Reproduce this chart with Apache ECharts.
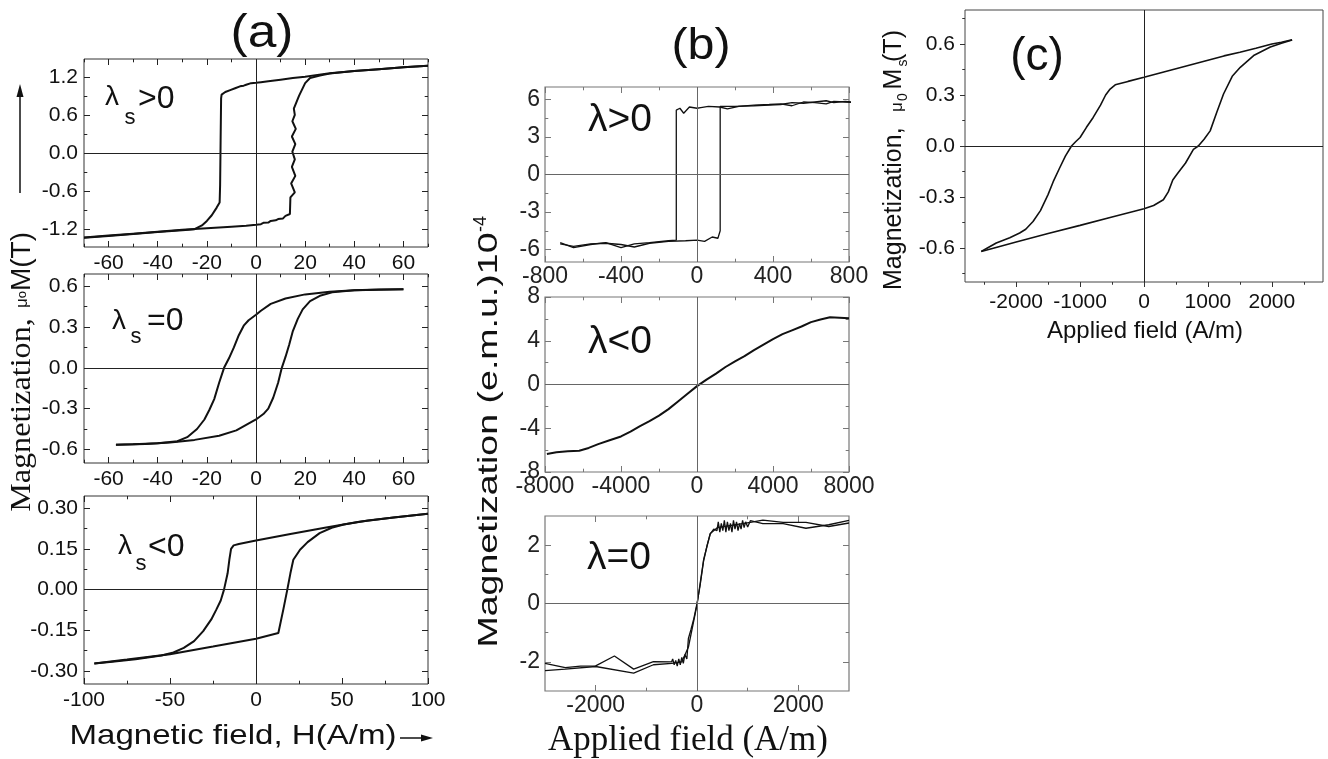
<!DOCTYPE html>
<html><head><meta charset="utf-8">
<script src="https://cdn.jsdelivr.net/npm/echarts@6/dist/echarts.min.js"></script>
<style>html,body{margin:0;padding:0;background:#fff}#chart{width:1328px;height:759px}</style>
</head><body><div id="chart"></div>
<script>
// ---------- DATA ----------
// Panel (a) top: lambda_s > 0  (H in A/m, M in T)
const aPosDown = [[70,1.375],[60,1.35],[50,1.32],[40,1.29],[30,1.255],[25,1.23],[20,1.2],[15,1.18],[10,1.155],[5,1.13],[2,1.115],[0,1.105],[-2,1.1],[-2.5,1.08],[-4,1.075],[-5,1.06],[-6.5,1.05],[-7,1.03],[-8.5,1.02],[-9,1.0],[-10.5,0.99],[-11,0.97],[-12.5,0.96],[-13,0.93],[-14,0.92],[-14.2,0.86],[-14.4,0.2],[-14.6,-0.5],[-14.8,-0.78],[-16,-0.86],[-18,-0.98],[-20,-1.07],[-22,-1.14],[-25,-1.2],[-30,-1.215],[-40,-1.245],[-50,-1.275],[-60,-1.305],[-70,-1.335]];
const aPosUp = [[-70,-1.33],[-60,-1.3],[-50,-1.27],[-40,-1.24],[-30,-1.21],[-20,-1.185],[-10,-1.16],[-4,-1.145],[0,-1.13],[2,-1.12],[3,-1.1],[5,-1.095],[6,-1.07],[8,-1.06],[9,-1.04],[11,-1.03],[12,-0.99],[13.8,-0.96],[14,-0.7],[15.8,-0.62],[14.3,-0.48],[16,-0.36],[14.6,-0.22],[15.8,-0.1],[14.8,0.02],[16,0.14],[14.6,0.26],[16.2,0.38],[14.8,0.5],[15.8,0.6],[15.4,0.7],[17.5,0.9],[20,1.1],[22,1.18],[26,1.22],[30,1.25],[40,1.29],[50,1.32],[60,1.35],[70,1.375]];
// Panel (a) middle: lambda_s = 0
const aZeroDown = [[60,0.578],[50,0.576],[40,0.57],[30,0.56],[20,0.54],[12,0.51],[6,0.47],[2,0.42],[0,0.39],[-3,0.35],[-5,0.31],[-7,0.24],[-9,0.15],[-11,0.07],[-13,0.0],[-15,-0.11],[-17,-0.23],[-19,-0.31],[-21,-0.38],[-24,-0.45],[-28,-0.51],[-32,-0.54],[-40,-0.555],[-50,-0.562],[-57,-0.565]];
const aZeroUp = [[-57,-0.565],[-45,-0.56],[-35,-0.55],[-25,-0.53],[-15,-0.5],[-8,-0.46],[-4,-0.42],[0,-0.38],[3,-0.34],[5,-0.3],[7,-0.22],[9,-0.11],[10.5,0.0],[12,0.08],[13.5,0.17],[15,0.27],[17,0.36],[19,0.43],[22,0.49],[26,0.53],[31,0.555],[40,0.57],[50,0.575],[60,0.578]];
// Panel (a) bottom: lambda_s < 0
const aNegDown = [[100,0.28],[80,0.266],[60,0.25],[40,0.228],[20,0.205],[0,0.181],[-10,0.168],[-13,0.163],[-14.5,0.15],[-15.5,0.11],[-16.5,0.06],[-18.6,0.0],[-20.5,-0.04],[-23,-0.073],[-26,-0.11],[-30.7,-0.153],[-36,-0.19],[-42,-0.215],[-48,-0.232],[-55,-0.243],[-70,-0.257],[-85,-0.267],[-94,-0.272]];
const aNegUp = [[-94,-0.272],[-75,-0.258],[-50,-0.238],[-25,-0.21],[0,-0.181],[13,-0.16],[14,-0.153],[15.9,-0.073],[18.2,0.0],[20,0.06],[21.7,0.11],[25.6,0.147],[30,0.175],[37,0.208],[44,0.228],[51,0.24],[65,0.255],[80,0.266],[100,0.28]];
// Panel (b) top: lambda > 0  (H in A/m, M in 1e-4 emu)
const bPosDown = [[840,5.75],[780,5.8],[720,5.85],[680,5.65],[620,5.75],[560,5.8],[500,5.5],[440,5.65],[380,5.6],[300,5.55],[220,5.45],[160,5.25],[120,5.4],[60,5.45],[20,5.35],[0,5.3],[-40,5.4],[-70,4.9],[-90,5.3],[-109,5.15],[-109,-5.25],[-150,-5.3],[-250,-5.45],[-330,-5.55],[-400,-5.85],[-480,-5.45],[-560,-5.6],[-650,-5.85],[-720,-5.45]];
const bPosUp = [[-720,-5.55],[-650,-5.75],[-560,-5.55],[-480,-5.5],[-400,-5.6],[-330,-5.8],[-250,-5.5],[-150,-5.35],[-60,-5.3],[0,-5.25],[40,-5.35],[80,-5.0],[110,-5.1],[122,-4.5],[122,5.45],[200,5.45],[300,5.5],[380,5.55],[440,5.6],[500,5.75],[560,5.7],[620,5.8],[680,5.9],[720,5.75],[780,5.85],[840,5.75]];
// Panel (b) middle: lambda < 0
const bNeg = [[-7900,-6.35],[-7400,-6.2],[-6800,-6.1],[-6200,-6.05],[-5700,-5.8],[-5200,-5.45],[-4600,-5.1],[-4000,-4.75],[-3500,-4.3],[-3000,-3.8],[-2500,-3.35],[-2000,-2.85],[-1500,-2.25],[-1000,-1.55],[-500,-0.85],[0,-0.15],[500,0.45],[1000,1.0],[1500,1.6],[2000,2.12],[2500,2.6],[3000,3.15],[3500,3.65],[4000,4.15],[4500,4.6],[5000,4.95],[5500,5.3],[6000,5.7],[6500,5.95],[7000,6.15],[7500,6.1],[8000,6.05]];
// Panel (b) bottom: lambda = 0
const bZeroA = [[-3000,-2.05],[-2600,-2.2],[-2300,-2.15],[-2000,-2.14],[-1630,-1.8],[-1250,-2.25],[-860,-1.99],[-500,-2.0],[-480,-1.9],[-450,-2.1],[-420,-1.95],[-390,-2.15],[-360,-1.9],[-330,-2.1],[-300,-1.85],[-270,-2.05],[-240,-1.75],[-200,-1.9],[-170,-1.2],[-120,-0.9],[-60,-0.5],[0,0.0],[60,0.6],[130,1.45],[200,2.0],[262,2.39],[330,2.55],[394,2.5],[420,2.8],[450,2.45],[480,2.75],[510,2.5],[540,2.85],[570,2.45],[600,2.8],[630,2.5],[660,2.75],[690,2.45],[720,2.85],[750,2.55],[780,2.8],[810,2.5],[840,2.75],[870,2.55],[900,2.85],[930,2.6],[960,2.8],[1000,2.62],[1053,2.84],[1300,2.74],[1700,2.74],[2150,2.58],[2600,2.7],[3000,2.85]];
const bZeroB = [[-3000,-2.3],[-2600,-2.25],[-2000,-2.16],[-1250,-2.39],[-860,-2.1],[-500,-2.05],[-300,-2.0],[-170,-1.5],[0,-0.05],[130,1.5],[262,2.4],[400,2.6],[1053,2.78],[1300,2.86],[1700,2.78],[2150,2.78],[2600,2.64],[3000,2.76]];
// Panel (c)
const cDown = [[2317,0.625],[2150,0.61],[2000,0.6],[1750,0.575],[1500,0.552],[1250,0.53],[1000,0.505],[750,0.48],[500,0.455],[250,0.43],[0,0.404],[-250,0.38],[-450,0.36],[-530,0.335],[-600,0.3],[-680,0.24],[-795,0.168],[-900,0.11],[-1000,0.05],[-1070,0.025],[-1134,0.0],[-1230,-0.06],[-1318,-0.128],[-1420,-0.21],[-1501,-0.286],[-1620,-0.38],[-1736,-0.444],[-1850,-0.49],[-1945,-0.512],[-2100,-0.54],[-2311,-0.571],[-2450,-0.6],[-2546,-0.62]];
const cUp = [[-2546,-0.62],[-2300,-0.595],[-2000,-0.565],[-1500,-0.515],[-1000,-0.467],[-500,-0.418],[0,-0.369],[150,-0.35],[303,-0.316],[380,-0.27],[450,-0.2],[513,-0.168],[650,-0.1],[773,-0.02],[850,0.0],[940,0.04],[1035,0.089],[1140,0.2],[1244,0.306],[1380,0.41],[1506,0.463],[1715,0.532],[1976,0.582],[2150,0.605],[2317,0.623]];

// Tick labels (major) and minor tick positions
const a1XTicks = [-60,-40,-20,0,20,40,60], a1XMinor = [-70,-50,-30,-10,10,30,50,70];
const a1YTicks = [-1.2,-0.6,0,0.6,1.2], a1YMinor = [-0.9,-0.3,0.3,0.9];
const a2YTicks = [-0.6,-0.3,0,0.3,0.6], a2YMinor = [-0.45,-0.15,0.15,0.45];
const a3XTicks = [-100,-50,0,50,100], a3XMinor = [-75,-25,25,75];
const a3YTicks = [-0.3,-0.15,0,0.15,0.3], a3YMinor = [-0.225,-0.075,0.075,0.225];
const b1XTicks = [-800,-400,0,400,800], b1XMinor = [-600,-200,200,600];
const b1YTicks = [-6,-3,0,3,6], b1YMinor = [-4.5,-1.5,1.5,4.5];
const b2XTicks = [-8000,-4000,0,4000,8000], b2XMinor = [-6000,-2000,2000,6000];
const b2YTicks = [-8,-4,0,4,8], b2YMinor = [-6,-2,2,6];
const b3XTicks = [-2000,0,2000], b3XMinor = [-1000,1000];
const b3YTicks = [-2,0,2], b3YMinor = [-1,1];
const cXTicks = [-2000,-1000,0,1000,2000], cXMinor = [-2500,-1500,-500,500,1500,2500];
const cYTicks = [-0.6,-0.3,0,0.3,0.6], cYMinor = [-0.75,-0.45,-0.15,0.15,0.45,0.75];

// ---------- LAYOUT / STYLE ----------
const SANS = 'Liberation Sans, Arial, sans-serif';
const SERIF = 'Liberation Serif, Times New Roman, serif';
const grids = [
  {left:84, top:59, width:344, height:188},
  {left:84, top:274, width:344, height:189},
  {left:84, top:496, width:344, height:188},
  {left:545, top:87, width:304, height:175},
  {left:545, top:297, width:304, height:175},
  {left:545, top:516, width:304, height:175},
  {left:965, top:10, width:358, height:272}
];
const styleA = {inside:true, mirror:true, len:6, color:'#222', labelColor:'#111', fontSize:21, mx:6, my:6, border:'#333', bw:1};
const styleB = {inside:true, mirror:true, len:6, color:'#777', labelColor:'#222', fontSize:23, mx:3, my:5, border:'#777', bw:1.2};
const styleC = {inside:false, mirror:false, len:5, color:'#333', labelColor:'#111', fontSize:21, mx:10, my:10, border:'#444', bw:1};

const panelDefs = [
  {x:[-70,70], y:[-1.48,1.48], xT:a1XTicks, xM:a1XMinor, yT:a1YTicks, yM:a1YMinor, xd:0, yd:1, st:styleA},
  {x:[-70,70], y:[-0.7,0.69], xT:a1XTicks, xM:a1XMinor, yT:a2YTicks, yM:a2YMinor, xd:0, yd:1, st:styleA},
  {x:[-100,100], y:[-0.348,0.345], xT:a3XTicks, xM:a3XMinor, yT:a3YTicks, yM:a3YMinor, xd:0, yd:2, st:styleA},
  {x:[-800,800], y:[-7,7], xT:b1XTicks, xM:b1XMinor, yT:b1YTicks, yM:b1YMinor, xd:0, yd:0, st:styleB},
  {x:[-8000,8000], y:[-8,8], xT:b2XTicks, xM:b2XMinor, yT:b2YTicks, yM:b2YMinor, xd:0, yd:0, st:styleB},
  {x:[-3000,3000], y:[-3,3], xT:b3XTicks, xM:b3XMinor, yT:b3YTicks, yM:b3YMinor, xd:0, yd:0, st:styleB},
  {x:[-2800,2800], y:[-0.8,0.8], xT:cXTicks, xM:cXMinor, yT:cYTicks, yM:cYMinor, xd:0, yd:1, st:styleC}
];

const xAxes = [], yAxes = [], mainIdx = [];
panelDefs.forEach((p, g) => {
  const s = p.st;
  function mk(dim, pos, vals, len, label, dec, margin) {
    const ext = dim === 'x' ? p.x : p.y;
    const ax = {
      type:'value', gridIndex:g, position:pos, min:ext[0], max:ext[1],
      axisLine:{show:false, onZero:false}, splitLine:{show:false},
      axisTick:{show:true, inside:s.inside, length:len, customValues:vals, lineStyle:{color:s.color, width:1}},
      axisLabel: label ? {show:true, customValues:vals, margin:margin, fontSize:s.fontSize, fontFamily:SANS, color:s.labelColor,
        formatter: v => Number(v).toFixed(dec)} : {show:false}
    };
    const arr = dim === 'x' ? xAxes : yAxes;
    arr.push(ax); return arr.length - 1;
  }
  const xi = mk('x','bottom',p.xT,s.len,true,p.xd,s.mx);
  mk('x','bottom',p.xM,s.len*0.55,false);
  const yi = mk('y','left',p.yT,s.len,true,p.yd,s.my);
  mk('y','left',p.yM,s.len*0.55,false);
  if (s.mirror) {
    mk('x','top',p.xT,s.len,false); mk('x','top',p.xM,s.len*0.55,false);
    mk('y','right',p.yT,s.len,false); mk('y','right',p.yM,s.len*0.55,false);
  }
  mainIdx.push({xi, yi, s});
});

const seriesDefs = [
  [0,aPosDown,2],[0,aPosUp,2],[1,aZeroDown,2],[1,aZeroUp,2],[2,aNegDown,2],[2,aNegUp,2],
  [3,bPosDown,1.3],[3,bPosUp,1.3],[4,bNeg,2],[5,bZeroA,1.3],[5,bZeroB,1.3],
  [6,cDown,1.6],[6,cUp,1.6]
];
const zeroDone = {};
const series = seriesDefs.map(([g, d, w]) => {
  const m = mainIdx[g];
  const ser = {type:'line', xAxisIndex:m.xi, yAxisIndex:m.yi, data:d, showSymbol:false, symbol:'none',
    lineStyle:{color:'#111', width:w}, animation:false, silent:true, z:3};
  if (!zeroDone[g]) {
    zeroDone[g] = true;
    ser.markLine = {silent:true, symbol:'none', animation:false, label:{show:false},
      lineStyle:{color: g>=3 && g<=5 ? '#666' : '#222', width:1, type:'solid'},
      data:[{xAxis:0},{yAxis:0}]};
  }
  return ser;
});

// ---------- TEXT ----------
const graphics = [];
const R = Math.PI/2;
function addT(x,y,text,size,style,opts){
  const el = {type:'text', x:x, y:y, silent:true, z:10,
    style:Object.assign({text:text, fontSize:size, fontFamily:SANS, fill:'#111', align:'center', verticalAlign:'middle'}, style||{})};
  Object.assign(el, opts||{});
  graphics.push(el);
}
// panel letters
addT(262,34,'(a)',46,{}, {scaleX:1.12});
addT(701,47,'(b)',44,{}, {scaleX:1.1});
addT(1037,57,'(c)',46,{});
// lambda labels (a)
addT(112,97,'λ',28,{});
addT(130,118,'s',22,{});
addT(138,99,'>0',32,{align:'left'});
addT(119,321,'λ',28,{});
addT(136,337,'s',22,{});
addT(147,321,'=0',32,{align:'left'});
addT(125,546,'λ',28,{});
addT(141,564,'s',22,{});
addT(148,547,'<0',32,{align:'left'});
// lambda labels (b)
addT(588,120,'λ>0',39,{align:'left'});
addT(588,342,'λ<0',39,{align:'left'});
addT(587,558,'λ=0',39,{align:'left'});
// (a) axis titles
addT(22,415,'Magnetization,',30,{fontFamily:SERIF},{rotation:R, scaleX:1.07});
addT(22,270,'{m|μ}{o|o}{t|M(T)}',28,{rich:{m:{fontSize:17,fontFamily:SANS,fill:'#111'},o:{fontSize:13,fontFamily:SANS,fill:'#111',lineHeight:10},t:{fontSize:28,fontFamily:SANS,fill:'#111'}}},{rotation:R});
addT(233,736,'Magnetic field, H(A/m)',28,{},{scaleX:1.18});
graphics.push({type:'line', silent:true, shape:{x1:20,y1:193,x2:20,y2:94}, style:{stroke:'#111', lineWidth:1.5}});
graphics.push({type:'polygon', silent:true, shape:{points:[[20,84],[16.5,97],[23.5,97]]}, style:{fill:'#111'}});
graphics.push({type:'line', silent:true, shape:{x1:400,y1:738,x2:424,y2:738}, style:{stroke:'#111', lineWidth:1.5}});
graphics.push({type:'polygon', silent:true, shape:{points:[[433,738],[421,734.5],[421,741.5]]}, style:{fill:'#111'}});
// (b) axis titles
addT(489,440,'Magnetization (e.m.u.)10',28,{},{rotation:R, scaleX:1.34});
addT(481,224,'-4',18,{},{rotation:R});
addT(688,741,'Applied field (A/m)',35,{fontFamily:SERIF});
// (c) axis titles (pieces, reading bottom to top)
addT(894,290,'Magnetization,',25,{align:'left'},{rotation:R});
addT(897,107,'μ',17,{},{rotation:R});
addT(903,97,'0',14,{},{rotation:R});
addT(894,79,'M',25,{},{rotation:R});
addT(903,63,'s',14,{},{rotation:R});
addT(894,46,'(T)',25,{},{rotation:R});
addT(1145,331,'Applied field (A/m)',24,{});

const option = {
  animation:false,
  backgroundColor:'#fff',
  grid: grids.map((g,i) => Object.assign({show:true, borderColor:panelDefs[i].st.border, borderWidth:panelDefs[i].st.bw, backgroundColor:'transparent', containLabel:false}, g)),
  xAxis: xAxes,
  yAxis: yAxes,
  series: series,
  graphic: graphics
};
const chart = echarts.init(document.getElementById('chart'), null, {renderer:'canvas'});
chart.setOption(option);
</script></body></html>
